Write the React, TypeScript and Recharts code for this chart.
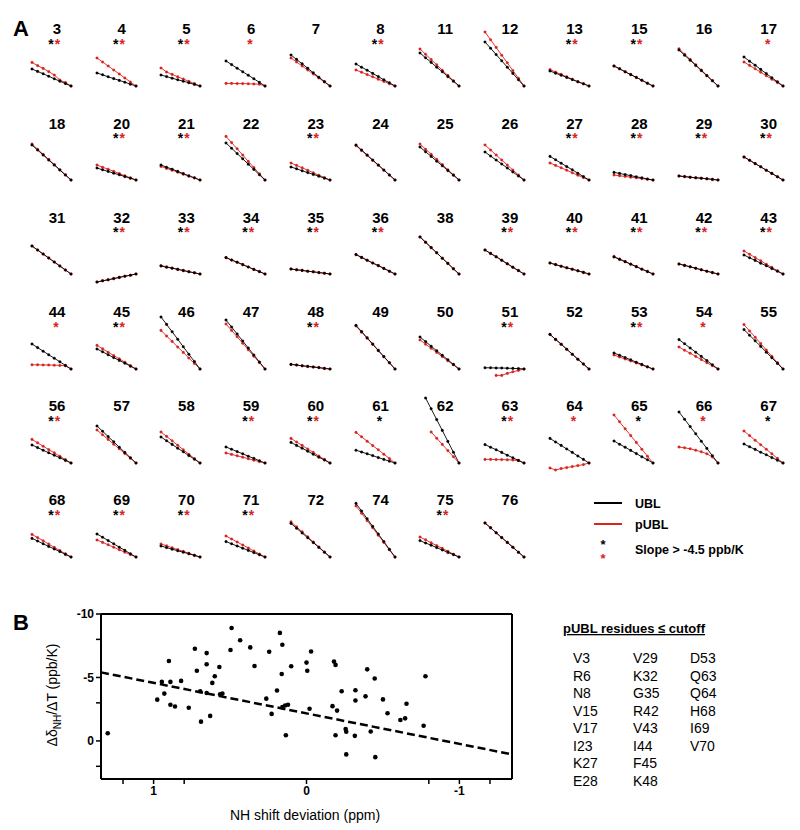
import React from "react";
import {
  LineChart,
  Line,
  XAxis,
  YAxis,
  ScatterChart,
  Scatter,
  ReferenceLine,
} from "recharts";

const FONT = '"Liberation Sans", Arial, sans-serif';
const RED = "#d9231d";

// panel A: residues in grid order (12 per row)
const residues = [
  3, 4, 5, 6, 7, 8, 11, 12, 13, 15, 16, 17,
  18, 20, 21, 22, 23, 24, 25, 26, 27, 28, 29, 30,
  31, 32, 33, 34, 35, 36, 38, 39, 40, 41, 42, 43,
  44, 45, 46, 47, 48, 49, 50, 51, 52, 53, 54, 55,
  56, 57, 58, 59, 60, 61, 62, 63, 64, 65, 66, 67,
  68, 69, 70, 71, 72, 74, 75, 76,
];

// temperatures (K)
const temps = [283, 288, 293, 298, 303, 308, 313, 318];

// amide shift relative to highest temperature (ppb)
const ublShift: (number | null)[][] = [
  [85, 73, 61, 49, 36, 24, 12, 0],
  [65, 56, 46, 37, 28, 19, 9, 0],
  [55, 47, 39, 31, 24, 16, 8, 0],
  [125, 107, 89, 71, 54, 36, 18, 0],
  [155, 133, 111, 89, 66, 44, 22, 0],
  [110, 94, 79, 63, 47, 31, 16, 0],
  [165, 141, 118, 94, 71, 47, 24, 0],
  [220, 189, 157, 126, 94, 63, 31, 0],
  [75, 64, 54, 43, 32, 21, 11, 0],
  [100, 86, 71, 57, 43, 29, 14, 0],
  [180, 154, 129, 103, 77, 51, 26, 0],
  [145, 124, 104, 83, 62, 41, 21, 0],
  [175, 150, 125, 100, 75, 50, 25, 0],
  [60, 51, 43, 34, 26, 17, 9, 0],
  [75, 64, 54, 43, 32, 21, 11, 0],
  [185, 159, 132, 106, 79, 53, 26, 0],
  [65, 56, 46, 37, 28, 19, 9, 0],
  [175, 150, 125, 100, 75, 50, 25, 0],
  [165, 141, 118, 94, 71, 47, 24, 0],
  [140, 120, 100, 80, 60, 40, 20, 0],
  [118, 101, 84, 67, 51, 34, 17, 0],
  [38, 33, 27, 22, 16, 11, 5, 0],
  [20, 17, 14, 11, 9, 6, 3, 0],
  [115, 99, 82, 66, 49, 33, 16, 0],
  [140, 120, 100, 80, 60, 40, 20, 0],
  [-40, -34, -29, -23, -17, -11, -6, 0],
  [40, 34, 29, 23, 17, 11, 6, 0],
  [82, 70, 59, 47, 35, 23, 12, 0],
  [25, 21, 18, 14, 11, 7, 4, 0],
  [97, 83, 69, 55, 42, 28, 14, 0],
  [185, 159, 132, 106, 79, 53, 26, 0],
  [120, 103, 86, 69, 51, 34, 17, 0],
  [55, 47, 39, 31, 24, 16, 8, 0],
  [85, 73, 61, 49, 36, 24, 12, 0],
  [50, 43, 36, 29, 21, 14, 7, 0],
  [95, 81, 68, 54, 41, 27, 14, 0],
  [125, 107, 89, 71, 54, 36, 18, 0],
  [100, 86, 71, 57, 43, 29, 14, 0],
  [260, 223, 186, 149, 111, 74, 37, 0],
  [245, 210, 175, 140, 105, 70, 35, 0],
  [23, 20, 16, 13, 10, 7, 3, 0],
  [218, 187, 156, 125, 93, 62, 31, 0],
  [160, 137, 114, 91, 69, 46, 23, 0],
  [6, 6, 5, 5, 4, 3, 2, 0],
  [173, 148, 124, 99, 74, 49, 25, 0],
  [80, 69, 57, 46, 34, 23, 11, 0],
  [147, 126, 105, 84, 63, 42, 21, 0],
  [197, 169, 141, 113, 84, 56, 28, 0],
  [90, 77, 64, 51, 39, 26, 13, 0],
  [185, 159, 132, 106, 79, 53, 26, 0],
  [130, 111, 93, 74, 56, 37, 19, 0],
  [80, 69, 57, 46, 34, 23, 11, 0],
  [103, 88, 74, 59, 44, 29, 15, 0],
  [64, 55, 46, 37, 27, 18, 9, 0],
  [null, 325, 271, 217, 163, 108, 54, 0],
  [92, 79, 66, 53, 39, 26, 13, 0],
  [123, 105, 88, 70, 53, 35, 18, 0],
  [110, 94, 79, 63, 47, 31, 16, 0],
  [255, 219, 182, 146, 109, 73, 36, 0],
  [95, 81, 68, 54, 41, 27, 14, 0],
  [93, 80, 66, 53, 40, 27, 13, 0],
  [115, 99, 82, 66, 49, 33, 16, 0],
  [55, 47, 39, 31, 24, 16, 8, 0],
  [77, 66, 55, 44, 33, 22, 11, 0],
  [168, 144, 120, 96, 72, 48, 24, 0],
  [268, 230, 191, 153, 115, 77, 38, 0],
  [82, 70, 59, 47, 35, 23, 12, 0],
  [170, 146, 121, 97, 73, 49, 24, 0],
];

const publShift: (number | null)[][] = [
  [118, 102, 88, 72, 55, 30, 17, 0],
  [140, 120, 100, 80, 60, 40, 20, 0],
  [90, 70, 58, 46, 35, 23, 12, 0],
  [13, 13, 12, 12, 11, 10, 9, 0],
  [140, 120, 100, 80, 60, 40, 20, 0],
  [80, 69, 57, 46, 34, 23, 11, 0],
  [185, 159, 132, 106, 79, 53, 26, 0],
  [270, 231, 193, 154, 116, 77, 39, 0],
  [82, 70, 58, 46, 34, 22, 11, 0],
  [100, 86, 71, 57, 43, 29, 14, 0],
  [186, 159, 133, 106, 80, 53, 27, 0],
  [120, 103, 86, 69, 51, 34, 17, 0],
  [180, 154, 128, 103, 77, 51, 26, 0],
  [75, 64, 54, 43, 32, 21, 11, 0],
  [68, 58, 49, 39, 29, 19, 10, 0],
  [218, 187, 156, 125, 93, 62, 31, 0],
  [85, 73, 61, 49, 36, 24, 12, 0],
  [172, 147, 123, 98, 74, 49, 25, 0],
  [180, 154, 129, 103, 77, 51, 26, 0],
  [175, 150, 125, 100, 75, 50, 25, 0],
  [85, 73, 61, 49, 36, 24, 12, 0],
  [25, 21, 18, 14, 11, 7, 4, 0],
  [20, 17, 14, 11, 9, 6, 3, 0],
  [115, 99, 82, 66, 49, 33, 16, 0],
  [140, 120, 100, 80, 60, 40, 20, 0],
  [-40, -34, -29, -23, -17, -11, -6, 0],
  [42, 36, 30, 24, 18, 12, 6, 0],
  [82, 70, 59, 47, 35, 23, 12, 0],
  [25, 21, 18, 14, 11, 7, 4, 0],
  [97, 83, 69, 55, 42, 28, 14, 0],
  [185, 159, 132, 106, 79, 53, 26, 0],
  [120, 103, 86, 69, 51, 34, 17, 0],
  [55, 47, 39, 31, 24, 16, 8, 0],
  [88, 75, 63, 50, 38, 25, 13, 0],
  [50, 43, 36, 29, 21, 14, 7, 0],
  [115, 99, 82, 66, 49, 33, 16, 0],
  [21, 21, 20, 20, 19, 18, 16, 0],
  [118, 101, 84, 67, 51, 34, 17, 0],
  [193, 165, 138, 110, 83, 55, 28, 0],
  [225, 193, 161, 129, 96, 64, 32, 0],
  [23, 20, 16, 13, 10, 7, 3, 0],
  [215, 184, 154, 123, 92, 61, 31, 0],
  [145, 124, 104, 83, 62, 41, 21, 0],
  [null, null, -32, -32, -22, -14, -7, 0],
  [173, 148, 124, 99, 74, 49, 25, 0],
  [70, 60, 50, 40, 30, 20, 10, 0],
  [110, 94, 79, 63, 47, 31, 16, 0],
  [222, 190, 159, 127, 95, 63, 32, 0],
  [118, 101, 84, 67, 51, 34, 17, 0],
  [165, 141, 118, 94, 71, 47, 24, 0],
  [155, 133, 111, 89, 66, 44, 22, 0],
  [50, 43, 36, 29, 21, 14, 7, 0],
  [123, 105, 88, 70, 53, 35, 18, 0],
  [153, 131, 109, 87, 66, 44, 22, 0],
  [null, null, 155, 124, 93, 62, 31, 0],
  [18, 18, 17, 17, 16, 15, 12, 0],
  [-25, -35, -28, -23, -18, -13, -8, 0],
  [240, 206, 171, 137, 103, 69, 34, 0],
  [80, 76, 71, 64, 56, 46, 30, 0],
  [160, 137, 114, 91, 69, 46, 23, 0],
  [113, 97, 81, 65, 48, 32, 16, 0],
  [85, 73, 61, 49, 36, 24, 12, 0],
  [65, 56, 46, 37, 28, 19, 9, 0],
  [105, 90, 75, 60, 45, 30, 15, 0],
  [176, 151, 126, 101, 75, 50, 25, 0],
  [255, 219, 182, 146, 109, 73, 36, 0],
  [100, 86, 71, 57, 43, 29, 14, 0],
  [170, 146, 121, 97, 73, 49, 24, 0],
];

// slope > -4.5 ppb/K
const ublStar = [3, 4, 5, 8, 13, 15, 20, 21, 23, 27, 28, 29, 30, 32, 33, 34, 35, 36, 39, 40, 41, 42, 43, 45, 48, 51, 53, 56, 59, 60, 61, 63, 65, 67, 68, 69, 70, 71, 75];
const publStar = [3, 4, 5, 6, 8, 13, 15, 17, 20, 21, 23, 27, 28, 29, 30, 32, 33, 34, 35, 36, 39, 40, 41, 42, 43, 44, 45, 48, 51, 53, 54, 56, 59, 60, 63, 64, 66, 68, 69, 70, 71, 75];

// panel B
const shiftDev = [
  1.3, 0.976, 0.946, 0.93, 0.9, 0.89, 0.89, 0.86, 0.82, 0.77, 0.73, 0.717, 0.695, 0.69,
  0.653, 0.653, 0.653, 0.63, 0.616, 0.6, 0.57, 0.565, 0.55, 0.497, 0.49, 0.434, 0.368,
  0.34, 0.263, 0.244, 0.228, 0.193, 0.174, 0.162, 0.158, 0.158, 0.14, 0.135, 0.121, 0.1,
  0.0, -0.005, -0.02, -0.03, -0.17, -0.18, -0.19, -0.19, -0.2, -0.23, -0.256, -0.26,
  -0.26, -0.32, -0.32, -0.316, -0.386, -0.397, -0.42, -0.446, -0.45, -0.5, -0.53, -0.614,
  -0.645, -0.654, -0.766, -0.778,
];
const tempCoef = [
  -0.61, -3.25, -4.65, -3.73, -6.3, -4.65, -2.85, -2.71, -4.73, -2.61, -7.26, -5.53, -3.91,
  -1.52, -6.92, -6.04, -3.78, -1.97, -4.57, -5.1, -5.83, -3.67, -3.73, -7.16, -8.9, -7.93,
  -7.37, -5.9, -3.33, -7.02, -2.13, -3.97, -8.51, -5.27, -7.58, -2.66, -2.79, -0.45, -2.85,
  -5.88, -6.17, -5.53, -2.53, -7.05, -2.74, -6.25, -5.99, -0.45, -2.39, -3.91, -0.93, -0.72,
  1.06, -3.99, -3.19, -0.4, -3.51, -5.64, -0.74, -4.92, 1.28, -3.27, -2.18, -1.65, -1.78,
  -2.93, -1.2, -5.1,
];
const fitLine = [
  { x: 1.344, y: -5.4 },
  { x: -1.344, y: 1.06 },
];
const xTicks = [1.2, 1, 0.8, 0, -0.8, -1, -1.2];
const yTicks = [-10, -8, -5, -3, 0, 2];

const cutoffList = [
  ["V3", "R6", "N8", "V15", "V17", "I23", "K27", "E28"],
  ["V29", "K32", "G35", "R42", "V43", "I44", "F45", "K48"],
  ["D53", "Q63", "Q64", "H68", "I69", "V70"],
];

const colLeft = (c: number) => 32 + c * 64.7;
const rowBottom = (r: number) => 86 + r * 94.2;

function Mini({ i }: { i: number }) {
  const c = i % 12;
  const r = Math.floor(i / 12);
  const data = temps.map((t, k) => ({ t, ubl: ublShift[i][k], publ: publShift[i][k] }));
  return (
    <div style={{ position: "absolute", left: colLeft(c) - 4, top: rowBottom(r) - 72 }}>
      <LineChart width={47} height={84} data={data} margin={{ top: 4, right: 4, bottom: 4, left: 4 }}>
        <XAxis dataKey="t" type="number" domain={[283, 318]} hide />
        <YAxis type="number" domain={[-40, 340]} hide />
        <Line
          dataKey="publ"
          stroke={RED}
          strokeWidth={0.9}
          dot={{ r: 1.3, fill: RED, stroke: RED, strokeWidth: 0.3 }}
          isAnimationActive={false}
        />
        <Line
          dataKey="ubl"
          stroke="#000"
          strokeWidth={0.9}
          dot={{ r: 1.3, fill: "#000", stroke: "#000", strokeWidth: 0.3 }}
          isAnimationActive={false}
        />
      </LineChart>
    </div>
  );
}

const Dot = (props: any) => <circle cx={props.cx} cy={props.cy} r={2.3} fill="#000" />;

export default function App() {
  const scatterData = shiftDev.map((x, k) => ({ x, y: tempCoef[k] }));
  return (
    <div style={{ position: "absolute", left: 0, top: 0, width: 800, height: 830, background: "#fff", fontFamily: FONT }}>
      {residues.map((_, i) => (
        <Mini key={i} i={i} />
      ))}

      <div style={{ position: "absolute", left: 0, top: 600 }}>
        <ScatterChart width={530} height={230} margin={{ top: 14, right: 18, bottom: 21, left: 61 }}>
          <XAxis
            type="number"
            dataKey="x"
            domain={[-1.344, 1.344]}
            reversed
            ticks={xTicks}
            interval={0}
            allowDataOverflow
            height={30}
            axisLine={{ stroke: "#000", strokeWidth: 2 }}
            tickLine={{ stroke: "#000", strokeWidth: 1.5 }}
            tickSize={5}
            tick={{ fill: "#000", fontSize: 12, fontWeight: "bold", fontFamily: FONT }}
            tickFormatter={(v: number) => (Number.isInteger(v) ? String(v) : "")}
          />
          <YAxis
            type="number"
            dataKey="y"
            domain={[-10, 3]}
            reversed
            ticks={yTicks}
            interval={0}
            allowDataOverflow
            width={40}
            axisLine={{ stroke: "#000", strokeWidth: 2 }}
            tickLine={{ stroke: "#000", strokeWidth: 1.5 }}
            tickSize={5}
            tick={{ fill: "#000", fontSize: 12, fontWeight: "bold", fontFamily: FONT }}
            tickFormatter={(v: number) => (v % 5 === 0 ? String(v) : "")}
          />
          <ReferenceLine y={-10} stroke="#000" strokeWidth={2} />
          <ReferenceLine x={-1.344} stroke="#000" strokeWidth={2} />
          <ReferenceLine segment={fitLine} stroke="#000" strokeWidth={2.5} strokeDasharray="8 4" />
          <Scatter data={scatterData} fill="#000" shape={Dot} isAnimationActive={false} />
        </ScatterChart>
      </div>

      <svg width={800} height={830} style={{ position: "absolute", left: 0, top: 0, pointerEvents: "none" }} fontFamily={FONT}>
        <text x={13} y={36} fontSize={22} fontWeight="bold">A</text>
        <text x={13} y={630} fontSize={22} fontWeight="bold">B</text>
        {residues.map((res, i) => {
          const c = i % 12;
          const r = Math.floor(i / 12);
          const cx = colLeft(c) + 25;
          const b = rowBottom(r);
          const bs = ublStar.includes(res);
          const rs = publStar.includes(res);
          return (
            <g key={res}>
              <text x={cx} y={b - 51.6} fontSize={15} fontWeight="bold" textAnchor="middle">{res}</text>
              {bs && rs && (
                <>
                  <text x={cx - 6} y={b - 37} fontSize={14} fontWeight="bold" textAnchor="middle">*</text>
                  <text x={cx + 0.5} y={b - 37} fontSize={14} fontWeight="bold" textAnchor="middle" fill={RED}>*</text>
                </>
              )}
              {bs && !rs && <text x={cx - 1} y={b - 37} fontSize={14} fontWeight="bold" textAnchor="middle">*</text>}
              {!bs && rs && <text x={cx - 1} y={b - 37} fontSize={14} fontWeight="bold" textAnchor="middle" fill={RED}>*</text>}
            </g>
          );
        })}

        <line x1={594} x2={622} y1={503} y2={503} stroke="#000" strokeWidth={2} />
        <text x={635} y={507.8} fontSize={12.5} fontWeight="bold">UBL</text>
        <line x1={594} x2={622} y1={524} y2={524} stroke={RED} strokeWidth={2} />
        <text x={635} y={528.5} fontSize={12.5} fontWeight="bold">pUBL</text>
        <text x={603} y={548.5} fontSize={13} fontWeight="bold" textAnchor="middle">*</text>
        <text x={603} y={563} fontSize={13} fontWeight="bold" textAnchor="middle" fill={RED}>*</text>
        <text x={635} y={554} fontSize={12.5} fontWeight="bold">Slope &gt; -4.5 ppb/K</text>

        <text x={305} y={820} fontSize={14} textAnchor="middle">NH shift deviation (ppm)</text>
        <text transform="translate(57,695) rotate(-90)" fontSize={14} textAnchor="middle">
          Δδ<tspan fontSize={10} dy={4}>NH</tspan>
          <tspan dy={-4}>/ΔT (ppb/K)</tspan>
        </text>

        <text x={563} y={633} fontSize={13} fontWeight="bold" style={{ textDecoration: "underline" }}>
          pUBL residues ≤ cutoff
        </text>
        {cutoffList.map((col, ci) =>
          col.map((name, ri) => (
            <text key={name} x={[573, 633, 690][ci]} y={663 + ri * 17.5} fontSize={14}>
              {name}
            </text>
          ))
        )}
      </svg>
    </div>
  );
}
